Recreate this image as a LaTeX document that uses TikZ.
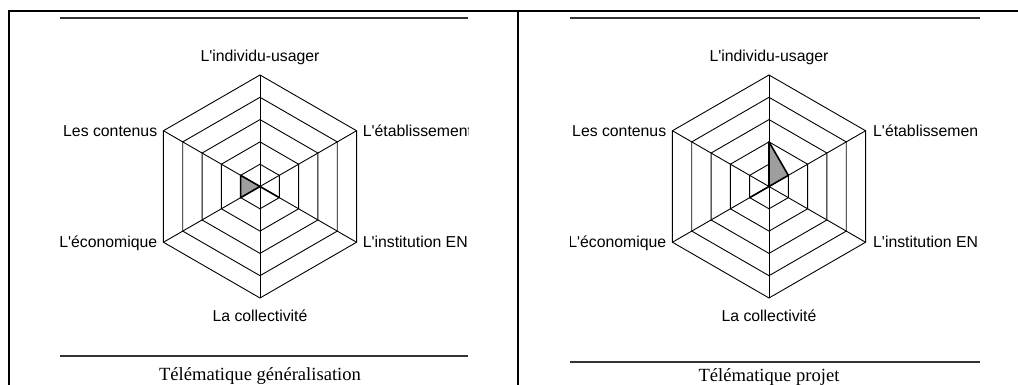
\documentclass[tikz,border=0pt]{standalone}
\usepackage{fontspec}
\setmainfont{Liberation Serif}
\newfontfamily\chartfont{Liberation Sans}
\usepackage{tikz}
\tikzset{%
	axis label/.style={
		inner sep=0pt,
		text height=11.3pt,
		text depth=0pt,
		font=\chartfont\fontsize{15.8}{18}\selectfont
	},
	chart title/.style={
		inner sep=0pt,
		anchor=base,
		font=\fontsize{18.6}{20}\selectfont
	},
}
\begin{document}
\begin{tikzpicture}[x=1pt,y=1pt]
			\tikzstyle{web}=[draw,black,line width=0.9pt,line join=miter]
			\tikzstyle{frame}=[draw,black,line width=2pt]
			\tikzstyle{rule}=[draw,black!80,line width=1.4pt]
			\tikzstyle{score}=[draw,black,line width=1.6pt,fill=black!38,line join=round]
			
			\useasboundingbox (0,0) rectangle (1018,385);
			
			\coordinate (tl) at (8,374);
			\coordinate (tr) at (1018,374);
			\coordinate (bl) at (9,0);
			\coordinate (tm) at (518,374);
			\coordinate (bm) at (518,0);
			\draw[frame] (tl) -- (tr);
			\draw[frame] (9,374) -- (bl);
			\draw[frame] (tm) -- (bm);
			
			\draw[rule] (60,367) -- (468,367);
			\draw[rule] (60,29) -- (468,29);
			\draw[rule] (570,367) -- (980,367);
			\draw[rule] (570,23) -- (980,23);
			
			\node[chart title](tA) at (260,4.5){Télématique généralisation};
			\node[chart title](tB) at (769,3.5){Télématique projet};
			
			% left web
			\begin{scope}[shift={(260,198.5)}]
				\coordinate (cA) at (0,0);
				\draw[web] (90:22.3) -- (30:22.3) -- (-30:22.3) -- (-90:22.3) -- (210:22.3) -- (150:22.3) -- cycle;
				\draw[web] (90:44.6) -- (30:44.6) -- (-30:44.6) -- (-90:44.6) -- (210:44.6) -- (150:44.6) -- cycle;
				\draw[web] (90:66.9) -- (30:66.9) -- (-30:66.9) -- (-90:66.9) -- (210:66.9) -- (150:66.9) -- cycle;
				\draw[web] (90:89.2) -- (30:89.2) -- (-30:89.2) -- (-90:89.2) -- (210:89.2) -- (150:89.2) -- cycle;
				\draw[web] (90:111.5) -- (30:111.5) -- (-30:111.5) -- (-90:111.5) -- (210:111.5) -- (150:111.5) -- cycle;
				\draw[web] (90:111.5) -- (-90:111.5);
				\draw[web] (30:111.5) -- (210:111.5);
				\draw[web] (-30:111.5) -- (150:111.5);
				\draw[score] (cA) -- (-30:22.3) -- (cA) -- (210:22.3) -- (150:22.3) -- cycle;
			\end{scope}
			
			% right web
			\begin{scope}[shift={(769,198.5)}]
				\coordinate (cB) at (0,0);
				\draw[web] (90:22.3) -- (30:22.3) -- (-30:22.3) -- (-90:22.3) -- (210:22.3) -- (150:22.3) -- cycle;
				\draw[web] (90:44.6) -- (30:44.6) -- (-30:44.6) -- (-90:44.6) -- (210:44.6) -- (150:44.6) -- cycle;
				\draw[web] (90:66.9) -- (30:66.9) -- (-30:66.9) -- (-90:66.9) -- (210:66.9) -- (150:66.9) -- cycle;
				\draw[web] (90:89.2) -- (30:89.2) -- (-30:89.2) -- (-90:89.2) -- (210:89.2) -- (150:89.2) -- cycle;
				\draw[web] (90:111.5) -- (30:111.5) -- (-30:111.5) -- (-90:111.5) -- (210:111.5) -- (150:111.5) -- cycle;
				\draw[web] (90:111.5) -- (-90:111.5);
				\draw[web] (30:111.5) -- (210:111.5);
				\draw[web] (-30:111.5) -- (150:111.5);
				\draw[score] (90:44.6) -- (30:22.3) -- (cB) -- (210:22.3) -- (cB) -- cycle;
			\end{scope}
			
			\begin{scope}
				\clip (60,0) rectangle (468,385);
				\node[axis label,anchor=south](uA) at (260,323.5){L'individu-usager};
				\node[axis label,anchor=east](cnA) at (157.4,254.2){Les contenus};
				\node[axis label,anchor=west](etA) at (362.6,254.2){L'établissement};
				\node[axis label,anchor=west](inA) at (362.6,142.8){L'institution EN};
				\node[axis label,anchor=east](ecA) at (157.4,142.8){L'économique};
				\node[axis label,anchor=north](coA) at (260,75){La collectivité};
			\end{scope}
			
			\begin{scope}
				\clip (570,0) rectangle (977,385);
				\node[axis label,anchor=south](uB) at (769,323.5){L'individu-usager};
				\node[axis label,anchor=east](cnB) at (666.4,254.2){Les contenus};
				\node[axis label,anchor=west](etB) at (873,254.2){L'établissement};
				\node[axis label,anchor=west](inB) at (873,142.8){L'institution EN};
				\node[axis label,anchor=east](ecB) at (666.4,142.8){L'économique};
				\node[axis label,anchor=north](coB) at (769,75){La collectivité};
			\end{scope}
		\end{tikzpicture}
\end{document}
